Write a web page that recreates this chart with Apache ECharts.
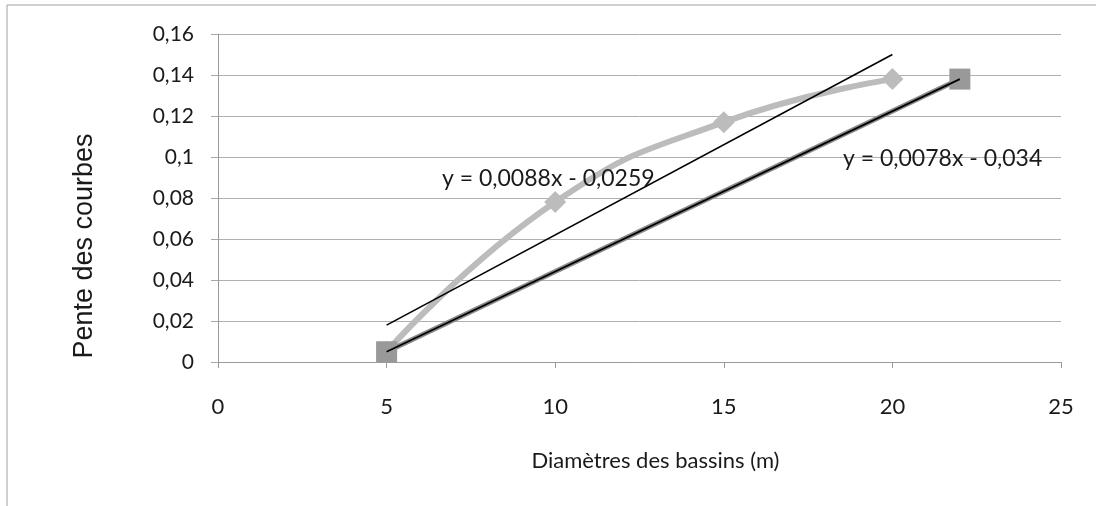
<!DOCTYPE html>
<html>
<head>
<meta charset="utf-8">
<script src="https://cdn.jsdelivr.net/npm/echarts@6/dist/echarts.min.js"></script>
<style>
html,body{margin:0;padding:0;background:#fff;}
#chart{width:1096px;height:506px;}
</style>
</head>
<body>
<div id="chart"></div>
<script>
// ---- data ----
const xTitle = 'Diamètres des bassins (m)';
const yTitle = 'Pente des courbes';
const serie1X = [5, 10, 15, 20];
const serie1Y = [0.005, 0.078, 0.117, 0.138];
const serie2X = [5, 22];
const serie2Y = [0.005, 0.138];
const trend1X = [5, 20];
const trend1Y = [0.018, 0.150];
const trend2X = [5, 22];
const trend2Y = [0.005, 0.138];
const eqLabels = ['y = 0,0088x - 0,0259', 'y = 0,0078x - 0,034'];

const zip = (xs, ys) => xs.map((x, i) => [x, ys[i]]);
const fmtY = v => String(+(+v).toFixed(2)).replace('.', ',');

const chart = echarts.init(document.getElementById('chart'), null, {renderer: 'canvas'});
const grid = {left: 218, top: 34, right: 35, bottom: 144};

chart.setOption({
  animation: false,
  backgroundColor: '#ffffff',
  grid: grid,
  xAxis: {
    type: 'value', min: 0, max: 25, interval: 5,
    name: xTitle, nameLocation: 'middle', nameGap: 88,
    nameTextStyle: {fontFamily: 'Lato', fontSize: 22, color: '#1a1a1a', padding: [0, 0, 0, 32]},
    axisLine: {show: true, onZero: false, lineStyle: {color: '#9a9a9a', width: 1}},
    axisTick: {show: true, length: 6, lineStyle: {color: '#9a9a9a'}},
    axisLabel: {margin: 34, fontFamily: 'Lato', fontSize: 22, color: '#1a1a1a'},
    splitLine: {show: false}
  },
  yAxis: {
    type: 'value', min: 0, max: 0.16, interval: 0.02,
    name: yTitle, nameLocation: 'middle', nameGap: 120, nameRotate: 90,
    nameTextStyle: {fontFamily: 'Liberation Sans', fontSize: 27, color: '#1a1a1a', padding: [0, 96, 0, 0]},
    axisLine: {show: true, lineStyle: {color: '#9a9a9a', width: 1}},
    axisTick: {show: true, length: 7, lineStyle: {color: '#a8a8a8'}},
    axisLabel: {margin: 24, fontFamily: 'Lato', fontSize: 21, color: '#1a1a1a', formatter: fmtY},
    splitLine: {show: true, lineStyle: {color: '#b0b0b0', width: 1}}
  },
  series: [
    {
      type: 'line', data: zip(serie1X, serie1Y), smooth: 0.5,
      symbol: 'diamond', symbolSize: 22,
      lineStyle: {color: '#bcbcbc', width: 6},
      itemStyle: {color: '#bcbcbc'},
      z: 2
    },
    {
      type: 'line', data: zip(serie2X, serie2Y),
      symbol: 'rect', symbolSize: 21,
      lineStyle: {color: '#8a8a8a', width: 5},
      itemStyle: {color: '#999999'},
      z: 2
    },
    {
      type: 'line', data: zip(trend1X, trend1Y), symbol: 'none',
      lineStyle: {color: '#000000', width: 1.6}, z: 5
    },
    {
      type: 'line', data: zip(trend2X, trend2Y), symbol: 'none',
      lineStyle: {color: '#000000', width: 1.8}, z: 5
    }
  ],
  graphic: [
    {type: 'line', shape: {x1: 7, y1: 5, x2: 7, y2: 506}, style: {stroke: '#a0a0a0', lineWidth: 1}},
    {type: 'line', shape: {x1: 7, y1: 5, x2: 1096, y2: 5}, style: {stroke: '#a0a0a0', lineWidth: 1}},
    {type: 'text', left: 442, top: 167, z: 10,
     style: {text: eqLabels[0], font: '23px Lato', fill: '#1a1a1a'}},
    {type: 'text', left: 843, top: 147, z: 10,
     style: {text: eqLabels[1], font: '23px Lato', fill: '#1a1a1a'}}
  ]
});
</script>
</body>
</html>
